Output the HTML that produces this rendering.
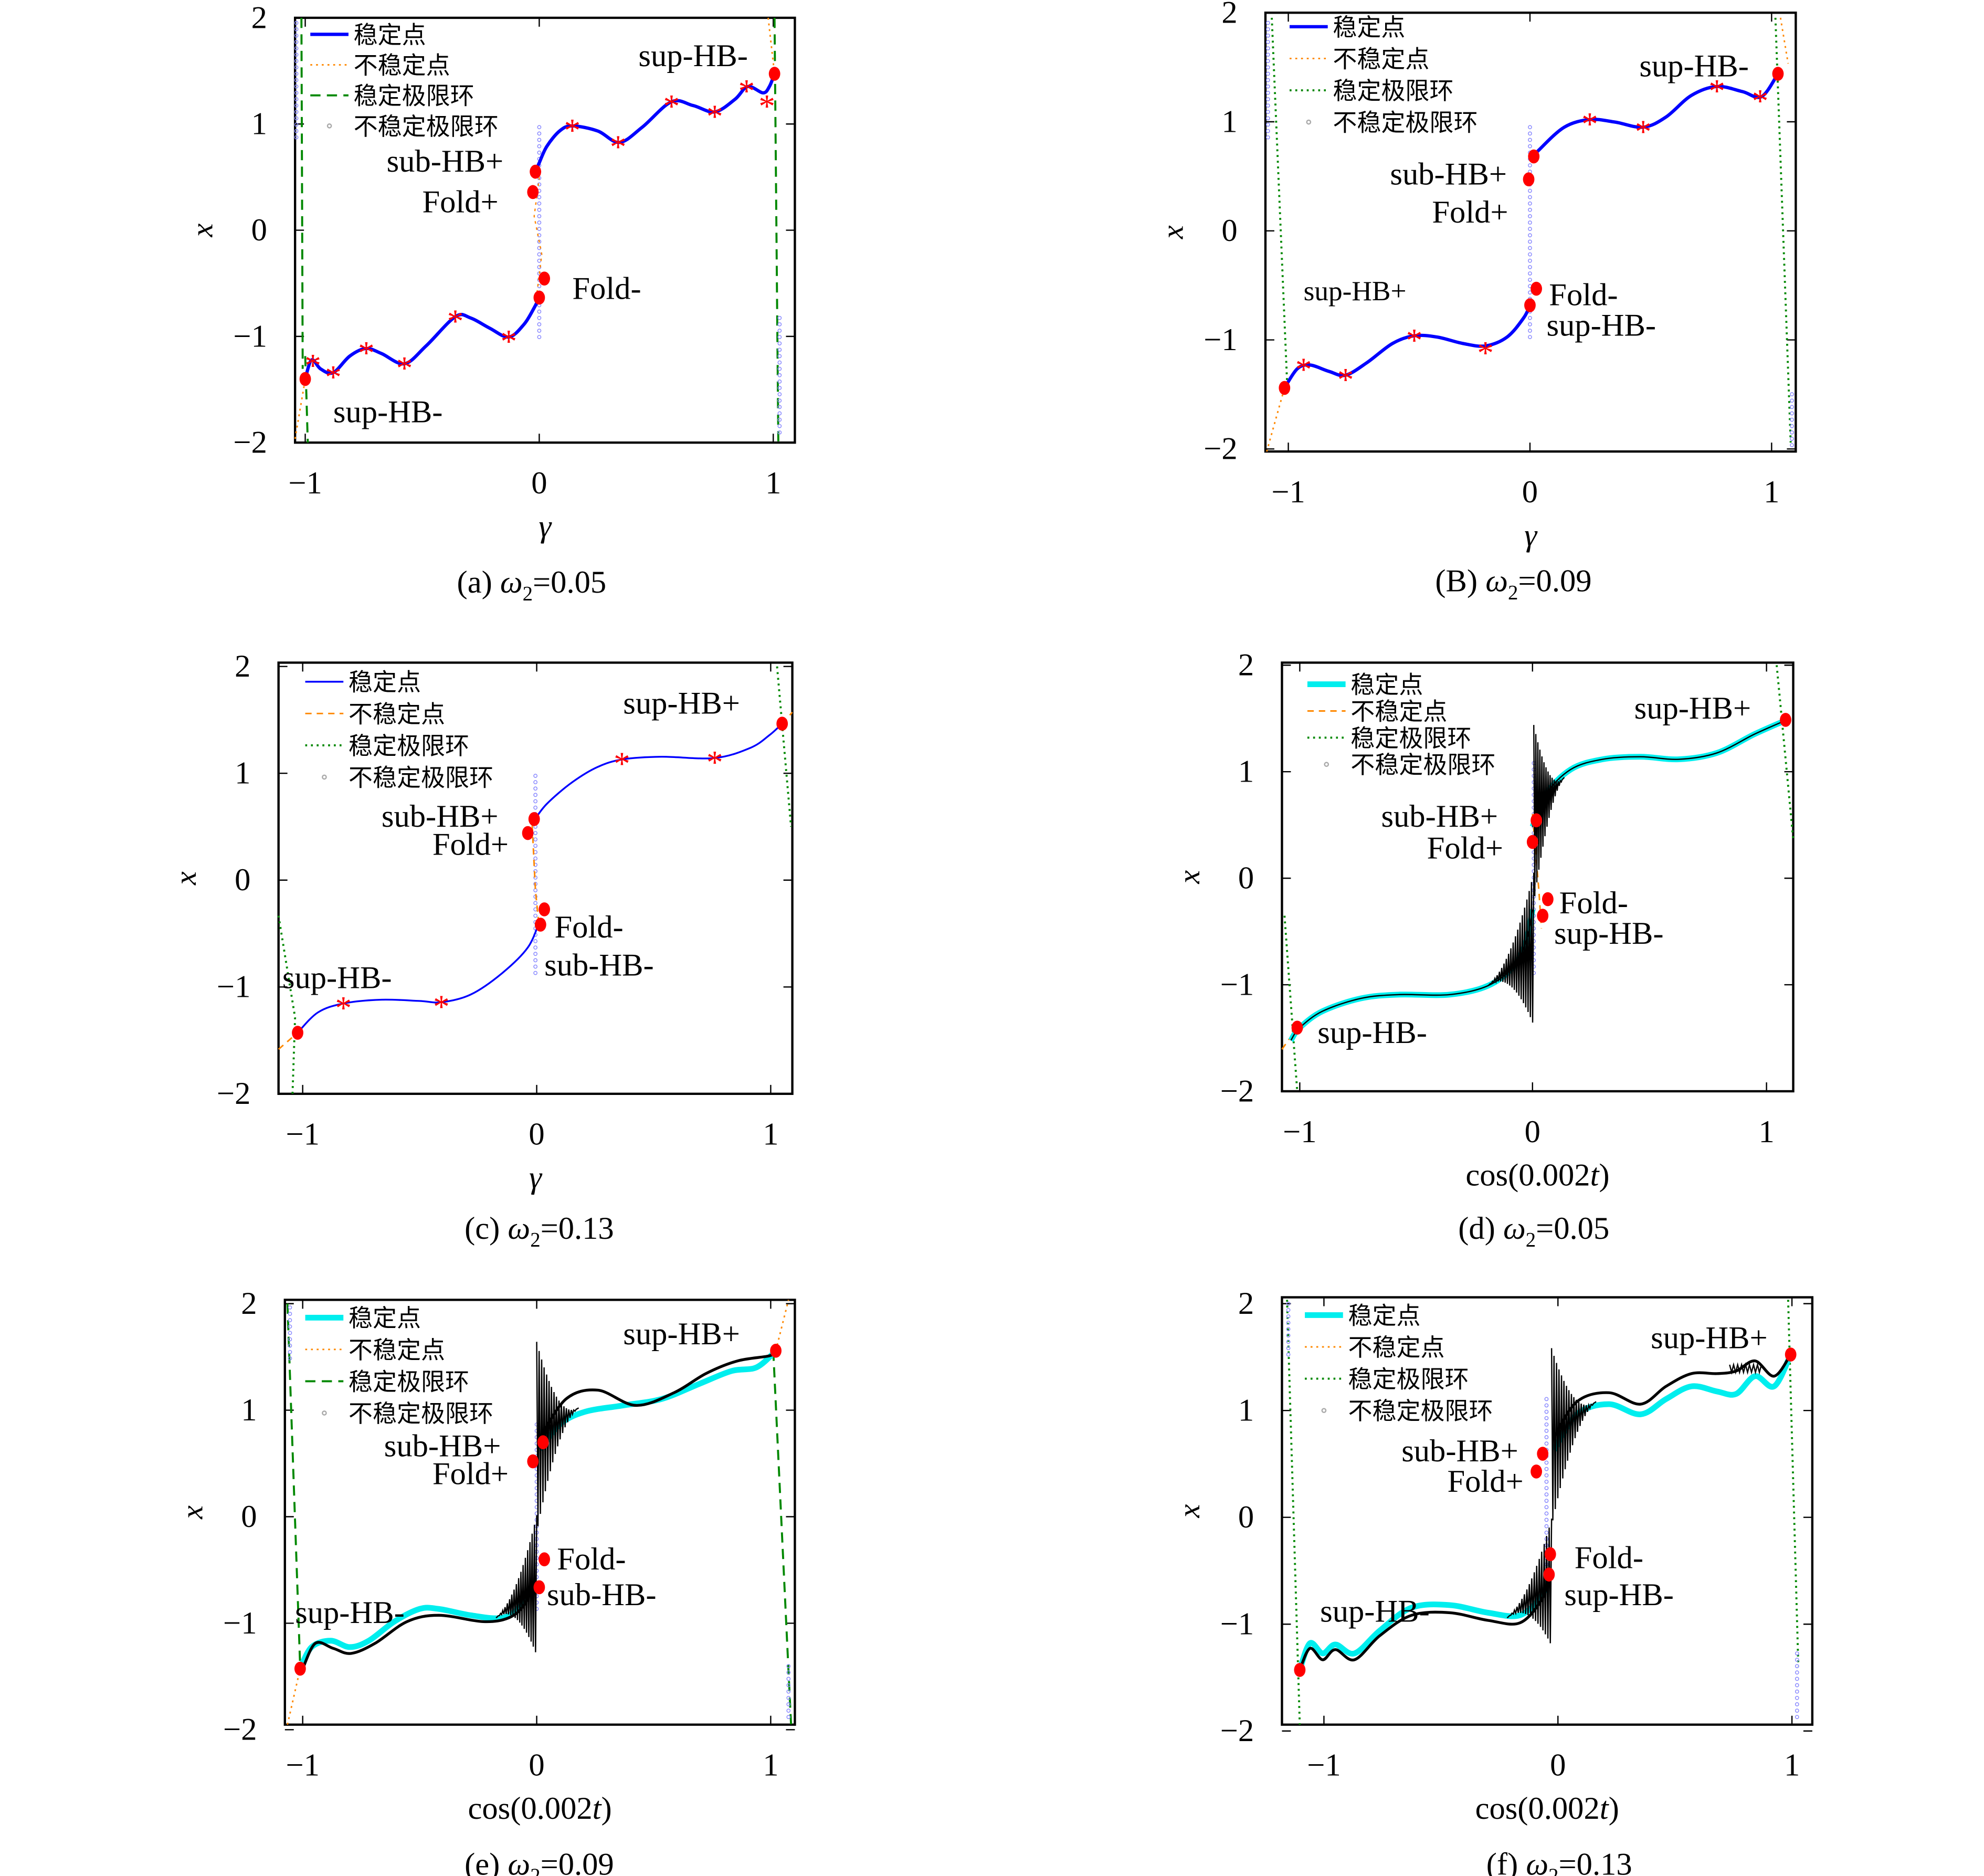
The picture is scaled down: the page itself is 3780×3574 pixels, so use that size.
<!DOCTYPE html>
<html><head><meta charset="utf-8"><style>
html,body{margin:0;padding:0;background:#fff;}
svg{display:block;}
text{font-family:"Liberation Serif","Noto Serif CJK SC","Noto Sans CJK SC",serif;fill:#000;}
.cj{font-family:"Liberation Serif","Noto Sans CJK SC",sans-serif;}
</style></head><body>
<svg id="s" xmlns="http://www.w3.org/2000/svg" width="3780" height="3574" viewBox="0 0 1560 1475"></svg>
<script>
const S=document.getElementById('s');let o='';
function sm(p){let d='M'+p[0][0]+','+p[0][1];for(let i=0;i<p.length-1;i++){const a=p[i-1]||p[i],b=p[i],c=p[i+1],e=p[i+2]||c;
d+=' C'+(b[0]+(c[0]-a[0])/6).toFixed(1)+','+(b[1]+(c[1]-a[1])/6).toFixed(1)+' '+(c[0]-(e[0]-b[0])/6).toFixed(1)+','+(c[1]-(e[1]-b[1])/6).toFixed(1)+' '+c[0]+','+c[1];}return d;}
function path(p,st){o+='<path d="'+sm(p)+'" fill="none" '+st+'/>';}
function line(p,st){o+='<polyline points="'+p.map(q=>q.join(',')).join(' ')+'" fill="none" '+st+'/>';}
function dot(x,y){o+='<ellipse cx="'+x+'" cy="'+y+'" rx="4.5" ry="5.5" fill="#f00"/>';}
function star(x,y){o+='<text x="'+x+'" y="'+(y+12)+'" font-size="26" text-anchor="middle" style="fill:#f00">*</text>';}
function txt(x,y,t,fs,anc){o+='<text x="'+x+'" y="'+y+'" font-size="'+(fs||25)+'"'+(anc?' text-anchor="'+anc+'"':'')+'>'+t+'</text>';}
function vdots(x,y1,y2){for(let y=y1;y<y2;y+=5)o+='<circle cx="'+x+'" cy="'+y+'" r="1.3" fill="none" stroke="#88f" stroke-width="0.6"/>';}
function panel(bx,by,bw,bh,xt,yt,xl,title,tx,ty){
 o+='<rect x="'+bx+'" y="'+by+'" width="'+bw+'" height="'+bh+'" fill="none" stroke="#000" stroke-width="1.8"/>';
 xt.forEach(([p,l])=>{o+='<line x1="'+p+'" y1="'+(by+bh)+'" x2="'+p+'" y2="'+(by+bh-7)+'" stroke="#000"/><line x1="'+p+'" y1="'+by+'" x2="'+p+'" y2="'+(by+7)+'" stroke="#000"/>';txt(p,by+bh+40,l,25,'middle');});
 yt.forEach(([p,l])=>{o+='<line x1="'+bx+'" y1="'+p+'" x2="'+(bx+7)+'" y2="'+p+'" stroke="#000"/><line x1="'+(bx+bw)+'" y1="'+p+'" x2="'+(bx+bw-7)+'" y2="'+p+'" stroke="#000"/>';txt(bx-22,p+8,l,25,'end');});
 const lx=bx-65,ly=by+bh/2;
 o+='<text x="'+lx+'" y="'+ly+'" font-size="24" font-style="italic" transform="rotate(-90 '+lx+' '+ly+')" text-anchor="middle">x</text>';
 txt(tx,ty,title,25,'middle');
 txt(bx+bw/2,by+bh+74,xl,25,'middle');
}
function legend(x,y,styles,gap){const L=['稳定点','不稳定点','稳定极限环','不稳定极限环'];
 L.forEach((t,i)=>{const yy=y+i*gap;if(i<3)o+='<line x1="'+x+'" y1="'+yy+'" x2="'+(x+30)+'" y2="'+yy+'" '+styles[i]+'/>';else o+='<circle cx="'+(x+15)+'" cy="'+yy+'" r="1.5" fill="none" stroke="#aaa"/>';
 o+='<text class="cj" x="'+(x+34)+'" y="'+(yy+7)+'" font-size="19">'+t+'</text>';});}
const BL='stroke="#00f" stroke-width="2.6"',BLt='stroke="#00f" stroke-width="1.4"',OR='stroke="#f80" stroke-width="1.2" stroke-dasharray="1.5,3"',ORd='stroke="#f80" stroke-width="1.2" stroke-dasharray="5,4"',
GD='stroke="#080" stroke-width="1.6" stroke-dasharray="8,5"',GT='stroke="#080" stroke-width="1.6" stroke-dasharray="1.5,3"',CY='stroke="#0ee" stroke-width="4.5"',BK='stroke="#000" stroke-width="1.3"';
const W='<tspan font-style="italic">ω</tspan><tspan font-size="16" dy="6">2</tspan><tspan dy="-6">=</tspan>';
function osc(x1,x2,base,amp,n){let p=[];for(let i=0;i<=n;i++){const x=x1+(x2-x1)*i/n;p.push([x.toFixed(1),(base(x)+(i%2?1:-1)*amp(x)).toFixed(1)]);}line(p,'stroke="#000" stroke-width="1"');}
const Y5=(a,b)=>[[a,'2'],[a+(b-a)/4,'1'],[a+(b-a)/2,'0'],[a+3*(b-a)/4,'−1'],[b,'−2']];
// (a)
panel(232,14,393,334,[[240,'−1'],[424,'0'],[608,'1']],Y5(14,348),'<tspan font-style="italic">γ</tspan>','(a) '+W+'0.05',418,466);
line([[237,14],[238,290]],GD);line([[240,280],[242,348]],GD);line([[609,14],[612,348]],GD);
line([[232,345],[240,298]],OR);line([[604,14],[609,58]],OR);
vdots(424,100,270);vdots(233,18,110);vdots(613,250,345);
line([[420,130],[424,140],[420,170],[426,200],[421,240]],'stroke="#f80" stroke-width="1" stroke-dasharray="2,3"');
path([[240,298],[245,283],[252,290],[262,293],[275,280],[288,274],[300,278],[318,286],[335,272],[358,249],[370,250],[385,258],[400,265],[412,255],[420,242],[424,234]],BL);
path([[421,135],[424,128],[430,115],[440,103],[450,99],[470,103],[487,112],[505,100],[528,80],[545,83],[562,88],[578,78],[588,68],[600,73],[605,68],[609,58]],BL);
[[246,284],[262,293],[288,274],[318,286],[358,249],[400,265],[450,99],[486,112],[528,80],[562,88],[587,68],[603,80]].forEach(p=>star(...p));
[[240,298],[609,58],[421,135],[419,151],[428,219],[424,234]].forEach(p=>dot(...p));
legend(244,27,[BL,OR,GD],24);
txt(502,52,'sup-HB-',25);txt(304,135,'sub-HB+',25);txt(332,167,'Fold+',25);txt(450,235,'Fold-',25);txt(262,332,'sup-HB-',25);
// (b)
panel(995,10,417,345,[[1013,'−1'],[1203,'0'],[1393,'1']],Y5(10,353),'<tspan font-style="italic">γ</tspan>','(B) '+W+'0.09',1190,465);
line([[1000,14],[1012,300]],GT);line([[1396,14],[1408,348]],GT);line([[996,355],[1010,305]],OR);line([[1400,14],[1406,50]],OR);
vdots(1203,100,270);vdots(997,18,110);vdots(1409,310,352);
path([[1010,305],[1020,290],[1030,287],[1045,292],[1058,295],[1075,285],[1095,270],[1112,264],[1130,265],[1150,270],[1168,272],[1185,265],[1198,250],[1203,240]],BL);
path([[1204,125],[1210,118],[1230,100],[1250,94],[1270,96],[1292,100],[1310,92],[1330,75],[1350,68],[1370,72],[1385,76],[1398,58]],BL);
[[1025,287],[1058,295],[1112,264],[1168,274],[1250,94],[1292,100],[1350,68],[1384,76]].forEach(p=>star(...p));
[[1010,305],[1398,58],[1206,123],[1202,141],[1208,227],[1203,240]].forEach(p=>dot(...p));
legend(1014,21,[BL,OR,GT],25);
txt(1289,60,'sup-HB-',25);txt(1093,145,'sub-HB+',25);txt(1126,175,'Fold+',25);txt(1025,236,'sup-HB+',22);txt(1218,240,'Fold-',25);txt(1216,264,'sup-HB-',25);
// (c)
panel(219,521,404,339,[[238,'−1'],[422,'0'],[606,'1']],Y5(524,860),'<tspan font-style="italic">γ</tspan>','(c) '+W+'0.13',424,974);
line([[219,720],[232,800],[230,860]],GT);line([[611,524],[622,650]],GT);line([[219,825],[234,812]],ORd);line([[615,569],[623,560]],ORd);
vdots(421,610,770);line([[418,640],[421,700],[424,730]],ORd);
path([[234,812],[250,796],[270,789],[300,786],[330,787],[347,788],[370,782],[395,765],[415,745],[424,725]],BLt);
path([[420,645],[430,632],[450,615],[470,603],[490,597],[520,595],[562,596],[590,588],[605,578],[615,569]],BLt);
[[270,789],[347,788],[489,597],[562,596]].forEach(p=>star(...p));
[[234,812],[615,569],[420,644],[415,655],[428,715],[425,727]].forEach(p=>dot(...p));
legend(240,536,[BLt,ORd,GT],25);
txt(490,561,'sup-HB+',25);txt(300,650,'sub-HB+',25);txt(340,672,'Fold+',25);txt(436,737,'Fold-',25);txt(428,767,'sub-HB-',25);txt(222,777,'sup-HB-',25);
// (d)
panel(1008,521,402,337,[[1022,'−1'],[1205,'0'],[1389,'1']],Y5(523,858),'cos(0.002<tspan font-style="italic">t</tspan>)','(d) '+W+'0.05',1206,974);
line([[1010,720],[1020,858]],GT);line([[1397,523],[1410,660]],GT);line([[1008,825],[1020,808]],ORd);
vdots(1206,600,770);line([[1205,640],[1210,700],[1212,730]],ORd);
path([[1015,818],[1022,808],[1040,795],[1070,785],[1100,782],[1140,782],[1170,775],[1190,760],[1200,740],[1205,715]],CY);
path([[1205,650],[1215,625],[1235,605],[1260,597],[1290,595],[1320,597],[1350,592],[1380,577],[1405,566]],CY);
path([[1015,818],[1022,808],[1040,795],[1070,785],[1100,782],[1140,782],[1170,775],[1190,760],[1200,740],[1205,715]],'stroke="#000" stroke-width="1"');
path([[1205,650],[1215,625],[1235,605],[1260,597],[1290,595],[1320,597],[1350,592],[1380,577],[1405,566]],'stroke="#000" stroke-width="1"');
osc(1170,1206,x=>775-(x-1170)*0.8,x=>Math.pow((x-1170)/36,2)*60,40);
osc(1206,1230,x=>640-(x-1206)*1.2,x=>Math.pow((1230-x)/24,2)*70,30);
[[1020,808],[1404,566],[1208,645],[1205,662],[1217,707],[1213,720]].forEach(p=>dot(...p));
legend(1028,538,[CY,ORd,GT],21);
txt(1285,565,'sup-HB+',25);txt(1086,650,'sub-HB+',25);txt(1122,675,'Fold+',25);txt(1226,718,'Fold-',25);txt(1222,742,'sup-HB-',25);txt(1036,820,'sup-HB-',25);
// (e)
panel(224,1022,401,334,[[238,'−1'],[422,'0'],[606,'1']],Y5(1025,1360),'cos(0.002<tspan font-style="italic">t</tspan>)','(e) '+W+'0.09',424,1474);
line([[226,1025],[236,1310]],GD);line([[608,1062],[622,1356]],GD);line([[226,1356],[236,1312]],OR);line([[610,1062],[620,1022]],OR);
vdots(228,1028,1070);vdots(620,1310,1352);vdots(422,1120,1270);
path([[236,1312],[245,1295],[260,1290],[275,1295],[290,1290],[310,1275],[330,1265],[345,1265],[370,1270],[395,1272],[410,1262],[420,1245]],CY);
path([[238,1312],[248,1292],[262,1296],[276,1300],[295,1292],[320,1275],[345,1270],[380,1275],[400,1272],[412,1262],[420,1245]],'stroke="#000" stroke-width="2.2"');
path([[425,1140],[440,1120],[460,1110],[490,1105],[520,1100],[550,1088],[575,1078],[595,1075],[610,1062]],CY);
path([[425,1130],[445,1100],[470,1093],[500,1105],[530,1095],[555,1080],[580,1070],[605,1066],[610,1062]],'stroke="#000" stroke-width="2.2"');
osc(390,422,x=>1272-(x-390)*0.8,x=>Math.pow((x-390)/32,2)*55,36);
osc(422,455,x=>1130-(x-422)*0.7,x=>Math.pow((455-x)/33,2)*75,34);
[[236,1312],[610,1062],[427,1134],[419,1149],[428,1226],[424,1248]].forEach(p=>dot(...p));
legend(240,1036,[CY,OR,GD],25);
txt(490,1057,'sup-HB+',25);txt(302,1145,'sub-HB+',25);txt(340,1167,'Fold+',25);txt(438,1234,'Fold-',25);txt(430,1262,'sub-HB-',25);txt(232,1276,'sup-HB-',25);
// (f)
panel(1008,1020,417,336,[[1041,'−1'],[1225,'0'],[1409,'1']],Y5(1025,1361),'cos(0.002<tspan font-style="italic">t</tspan>)','(f) '+W+'0.13',1226,1474);
line([[1012,1022],[1022,1356]],GT);line([[1406,1022],[1414,1310]],GT);
vdots(1013,1025,1070);vdots(1413,1300,1352);vdots(1216,1100,1250);
path([[1022,1313],[1030,1292],[1040,1300],[1050,1293],[1065,1300],[1085,1282],[1110,1264],[1140,1262],[1170,1268],[1195,1270],[1212,1255],[1218,1240]],CY);
path([[1022,1313],[1030,1296],[1040,1305],[1050,1297],[1065,1305],[1085,1286],[1110,1270],[1140,1268],[1170,1274],[1195,1276],[1212,1258],[1218,1240]],'stroke="#000" stroke-width="2.2"');
path([[1222,1140],[1240,1112],[1265,1104],[1290,1112],[1310,1100],[1330,1090],[1350,1094],[1365,1096],[1380,1082],[1395,1090],[1408,1065]],CY);
path([[1222,1130],[1240,1102],[1265,1095],[1290,1104],[1310,1090],[1330,1080],[1350,1080],[1365,1078],[1380,1070],[1395,1082],[1408,1065]],'stroke="#000" stroke-width="2.2"');
osc(1185,1220,x=>1272-(x-1185)*0.8,x=>Math.pow((x-1185)/35,2)*50,36);
osc(1220,1255,x=>1130-(x-1220)*0.8,x=>Math.pow((1255-x)/35,2)*70,36);
osc(1360,1385,x=>1076,x=>3,16);
[[1022,1313],[1408,1065],[1213,1143],[1208,1157],[1219,1222],[1218,1238]].forEach(p=>dot(...p));
legend(1026,1034,[CY,OR,GT],25);
txt(1298,1060,'sup-HB+',25);txt(1102,1149,'sub-HB+',25);txt(1138,1173,'Fold+',25);txt(1238,1233,'Fold-',25);txt(1230,1262,'sup-HB-',25);txt(1038,1275,'sup-HB-',25);
S.innerHTML=o;
</script>
</body></html>
